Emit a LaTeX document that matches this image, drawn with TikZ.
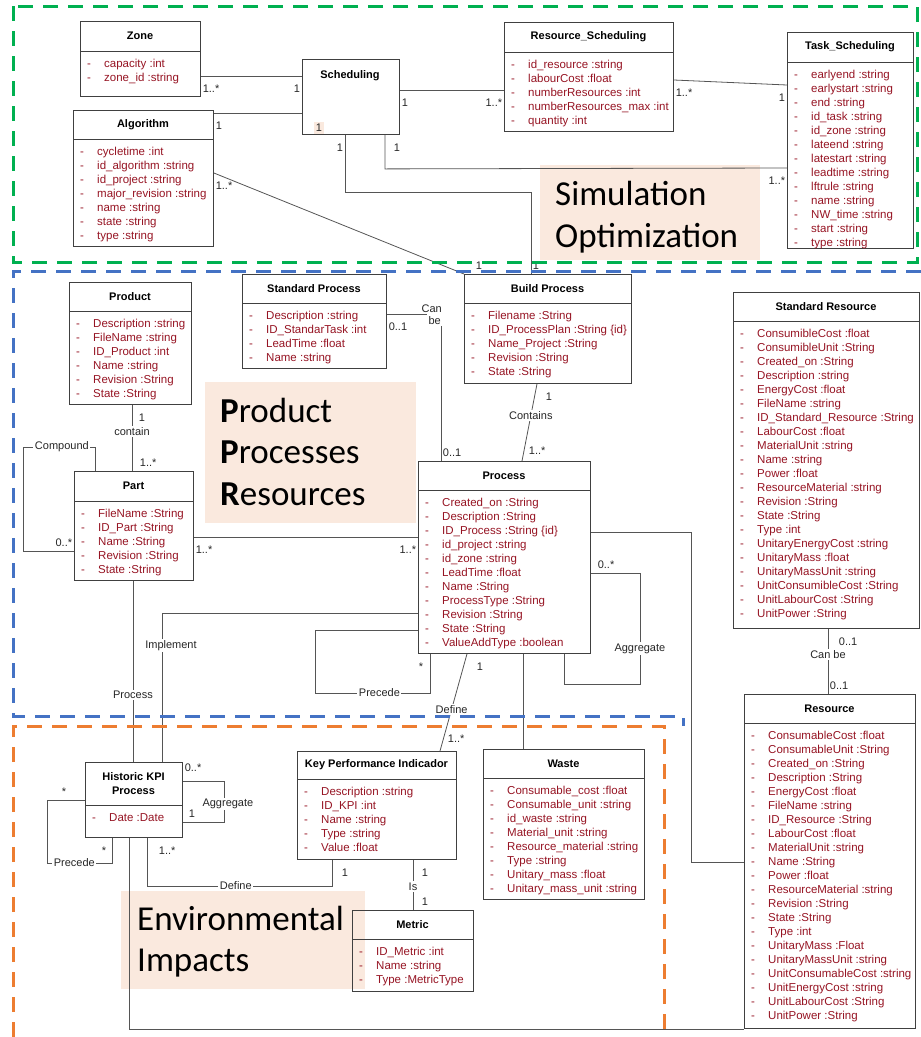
\documentclass[tikz,border=0pt]{standalone}
\usepackage{tikz,ifthen}
\usepackage{fontspec}
\setmainfont{Liberation Sans}
\newfontfamily\notefont{Carlito}
\usetikzlibrary{calc}

\definecolor{boxgray}{RGB}{64,64,64}
\definecolor{linegray}{RGB}{85,85,85}
\definecolor{attrred}{RGB}{150,20,35}
\definecolor{notebeige}{RGB}{250,233,222}
\definecolor{greenframe}{RGB}{0,176,80}
\definecolor{blueframe}{RGB}{68,114,196}
\definecolor{orangeframe}{RGB}{237,125,49}

\tikzset{
  classbox/.style={draw=boxgray, line width=0.9pt, inner sep=0pt},
  classtitle/.style={font=\bfseries\fontsize{11}{14}\selectfont, align=center, inner sep=0pt},
  attr/.style={font=\fontsize{11.5}{14}\selectfont, text=attrred, inner sep=0pt, anchor=base west},
  conn/.style={draw=linegray, line width=0.8pt},
  mult/.style={font=\fontsize{11}{13}\selectfont, text=black!85, inner sep=1.5pt},
  mbr/.style={mult, anchor=north west, yshift=-7pt},
  mbl/.style={mult, anchor=north east, yshift=-7pt},
  mar/.style={mult, anchor=south west, yshift=3pt},
  mal/.style={mult, anchor=south east, yshift=3pt},
  lab/.style={font=\fontsize{11}{13}\selectfont, text=black!85, fill=white, inner sep=1.5pt},
  note/.style={fill=notebeige, inner sep=0pt, anchor=north west},
  bigtext/.style={font=\notefont\fontsize{35}{43}\selectfont, anchor=base west, inner sep=0pt},
  frame/.style={line width=3pt, dash pattern=on 15pt off 10pt}
}

% name, left, top, right, divider, bottom, title, attributes
\newcommand{\umlclass}[8]{%
  \node[classbox, anchor=north west, minimum width={(#4-#2)*1pt},
        minimum height={(#6-#3)*1pt}] (#1) at (#2,#3) {};
  \draw[classbox] (#2,#5) -- (#4,#5);
  \node[classtitle] (#1-t) at ({(#2+#4)/2},{(#3+#5)/2}) {#7};
  \foreach \a [count=\i from 0] in {#8}
    \node[attr] (#1-\i) at (#2+7,#5+16+14*\i) {\makebox[17pt][l]{-}\a};
}

\begin{document}
\begin{tikzpicture}[x=1pt,y=-1pt]
\useasboundingbox (0,0) rectangle (921,1037);

% notes
\node[note, minimum width=220pt, minimum height=95pt] (simopt) at (540,165) {};
\node[bigtext] (simopt-1) at ($(simopt.north west)+(15,40)$) {Simulation};
\node[bigtext] (simopt-2) at ($(simopt.north west)+(15,82)$) {Optimization};
\node[note, minimum width=211pt, minimum height=141pt] (ppr) at (205,382) {};
\node[bigtext] (ppr-1) at ($(ppr.north west)+(15,40)$) {\textbf{P}roduct};
\node[bigtext] (ppr-2) at ($(ppr.north west)+(15,81)$) {\textbf{P}rocesses};
\node[bigtext] (ppr-3) at ($(ppr.north west)+(15,123)$) {\textbf{R}esources};
\node[note, minimum width=244pt, minimum height=98pt] (env) at (121,891) {};
\node[bigtext] (env-1) at ($(env.north west)+(16,39)$) {Environmental};
\node[bigtext] (env-2) at ($(env.north west)+(16,80)$) {Impacts};

% classes
\umlclass{zone}{80}{21}{200}{51}{96}{Zone}{capacity :int, zone\_id :string}
\umlclass{algo}{73}{110}{213}{139}{246}{Algorithm}{cycletime :int, id\_algorithm :string,
  id\_project :string, major\_revision :string, name :string, state :string, type :string}
\node[classbox, anchor=north west, minimum width=97pt, minimum height=75pt] (sched) at (302,59) {};
\node[classtitle] (sched-t) at (350,76) {Scheduling};
\umlclass{ressched}{504}{22}{673}{52}{131}{Resource\_Scheduling}{id\_resource :string,
  labourCost :float, numberResources :int, numberResources\_max :int, quantity :int}
\umlclass{tasksched}{787}{32}{913}{62}{248}{Task\_Scheduling}{earlyend :string,
  earlystart :string, end :string, id\_task :string, id\_zone :string, lateend :string,
  latestart :string, leadtime :string, lftrule :string, name :string, NW\_time :string,
  start :string, type :string}
\umlclass{stdproc}{242}{274}{386}{303}{368}{Standard Process}{Description :string,
  ID\_StandarTask :int, LeadTime :float, Name :string}
\umlclass{buildproc}{464}{274}{631}{303}{383}{Build Process}{Filename :String,
  ID\_ProcessPlan :String \{id\}, Name\_Project :String, Revision :String, State :String}
\umlclass{product}{69}{282}{191}{311}{404}{Product}{Description :string, FileName :string,
  ID\_Product :int, Name :string, Revision :String, State :String}
\umlclass{part}{74}{471}{193}{501}{580}{Part}{FileName :String, ID\_Part :String,
  Name :String, Revision :String, State :String}
\umlclass{process}{418}{461}{590}{490}{653}{Process}{Created\_on :String,
  Description :String, ID\_Process :String \{id\}, id\_project :string, id\_zone :string,
  LeadTime :float, Name :String, ProcessType :String, Revision :String, State :String,
  ValueAddType :boolean}
\umlclass{stdres}{733}{292}{919}{321}{628}{Standard Resource}{ConsumibleCost :float,
  ConsumibleUnit :String, Created\_on :String, Description :string, EnergyCost :float,
  FileName :string, ID\_Standard\_Resource :String, LabourCost :float, MaterialUnit :string,
  Name :string, Power :float, ResourceMaterial :string, Revision :String, State :String,
  Type :int, UnitaryEnergyCost :string, UnitaryMass :float, UnitaryMassUnit :string,
  UnitConsumibleCost :String, UnitLabourCost :String, UnitPower :String}
\umlclass{resource}{744}{694}{915}{723}{1028}{Resource}{ConsumableCost :float,
  ConsumableUnit :String, Created\_on :String, Description :String, EnergyCost :float,
  FileName :string, ID\_Resource :String, LabourCost :float, MaterialUnit :string,
  Name :String, Power :float, ResourceMaterial :string, Revision :String, State :String,
  Type :int, UnitaryMass :Float, UnitaryMassUnit :string, UnitConsumableCost :string,
  UnitEnergyCost :string, UnitLabourCost :String, UnitPower :String}
\umlclass{histkpi}{85}{762}{182}{805}{837}{Historic KPI\\Process}{Date :Date}
\umlclass{kpi}{297}{751}{456}{779}{859}{Key Performance Indicador}{Description :string,
  ID\_KPI :int, Name :string, Type :string, Value :float}
\umlclass{waste}{483}{749}{644}{778}{899}{Waste}{Consumable\_cost :float,
  Consumable\_unit :string, id\_waste :string, Material\_unit :string,
  Resource\_material :string, Type :string, Unitary\_mass :float, Unitary\_mass\_unit :string}
\umlclass{metric}{352}{910}{473}{939}{991}{Metric}{ID\_Metric :int, Name :string,
  Type :MetricType}

% simulation part
\coordinate (zs) at ($(zone.north east)+(0,55)$);
\draw[conn] (zs) -- node[mbr,pos=0]{1..*} node[mbl,pos=1]{1} (zs -| sched.west);
\coordinate (as) at ($(algo.north east)+(0,3)$);
\draw[conn] (as) -- node[mbr,pos=0]{1} (as -| sched.west);
\node[mult, fill=notebeige, inner sep=2pt] (sched-m) at ($(sched.south west)+(17,-7)$) {1};
\coordinate (sr) at ($(sched.north east)+(0,31)$);
\draw[conn] (sr) -- node[mbr,pos=0]{1} node[mbl,pos=1]{1..*} (sr -| ressched.west);
\draw[conn] ($(ressched.north east)+(0,58)$) -- node[mbr,pos=0]{1..*}
  node[mbl,pos=1]{1} ($(tasksched.north west)+(0,53)$);
\draw[conn] ($(sched.south west)+(83,0)$) -- node[mbr,pos=0,xshift=7pt]{1} ++(0,34)
  -- node[mbl,pos=1]{1..*} ($(tasksched.north west)+(0,136)$);
\draw[conn] ($(sched.south west)+(43,0)$) -- node[mbl,pos=0]{1} ++(0,57)
  -| node[mar,pos=1]{1} ($(buildproc.north west)+(67,0)$);
\draw[conn] ($(algo.north east)+(0,63)$) -- node[mbr,pos=0]{1..*}
  node[mar,pos=1,xshift=10pt]{1} (buildproc.north west);

% product, processes, resources
\draw[conn] ($(stdproc.north east)+(0,40)$) -| node[mbr,pos=0]{0..1}
  node[mar,pos=1]{0..1} ($(process.north west)+(23,0)$);
\node[mult, anchor=south east, inner sep=1pt] (can) at ($(process.north west)+(25,-147)$) {Can};
\node[lab, anchor=north east, inner sep=2pt] (be) at ($(process.north west)+(25,-147)$) {be};
\draw[conn] ($(buildproc.south west)+(73,0)$) -- node[lab,pos=0.41]{Contains}
  node[mbr,pos=0,xshift=7pt]{1} node[mar,pos=1,xshift=5pt,yshift=2pt]{1..*}
  ($(process.north west)+(104,0)$);
\coordinate (pp) at ($(product.south west)+(63,0)$);
\draw[conn] (pp) -- node[lab,pos=0.4]{contain} node[mbr,pos=0,xshift=5pt]{1}
  node[mar,pos=1,xshift=6pt]{1..*} (pp |- part.north);
\draw[conn] ($(part.north west)+(21,0)$) -- ++(0,-24) -- node[lab,pos=0.46]{Compound}
  ++(-72,0) |- node[mal,pos=1]{0..*} ($(part.north west)+(0,80)$);
\coordinate (pt) at ($(part.north east)+(0,66)$);
\draw[conn] (pt) -- node[mbr,pos=0]{1..*} node[mbl,pos=1]{1..*} (pt -| process.west);
\draw[conn] ($(process.north east)+(0,71)$) -- ++(100,0) |- ($(resource.north west)+(0,168)$);
\draw[conn] ($(process.north east)+(0,112)$) -- node[mar,pos=0,xshift=5pt]{0..*} ++(49,0)
  -- node[lab,pos=0.68]{Aggregate} ++(0,111) -| ($(process.south west)+(146,0)$);
\draw[conn] ($(process.north west)+(0,169)$) -- ++(-103,0) -- ++(0,63)
  -| node[lab,pos=0.28]{Precede} node[mbl,pos=1,xshift=-5pt]{*} ($(process.south west)+(12,0)$);
\draw[conn] ($(process.north west)+(0,152)$) -| node[lab,pos=0.61,xshift=9pt]{Implement}
  ($(histkpi.north west)+(77,0)$);
\coordinate (ph) at ($(part.south west)+(59,0)$);
\draw[conn] (ph) -- node[lab,pos=0.63]{Process} (ph |- histkpi.north);
\coordinate (sres) at ($(stdres.south west)+(95,0)$);
\draw[conn] (sres) -- node[lab,pos=0.4]{Can be} node[mbr,pos=0,xshift=9pt]{0..1}
  node[mar,pos=1]{0..1} (sres |- resource.north);

% environmental impacts
\draw[conn] ($(process.south west)+(49,0)$) -- node[lab,pos=0.57]{Define}
  node[mbr,pos=0,xshift=8pt]{1} node[mar,pos=1,xshift=6pt,yshift=4pt]{1..*}
  ($(kpi.north west)+(143,0)$);
\coordinate (pw) at ($(process.south west)+(105,0)$);
\draw[conn] (pw) -- (pw |- waste.north);
\draw[conn] ($(histkpi.north east)+(0,19)$) -- node[mar,pos=0,yshift=5pt]{0..*} ++(41,0)
  |- node[lab,pos=0.28,xshift=4pt]{Aggregate} node[mar,pos=1,xshift=4pt]{1}
  ($(histkpi.north east)+(0,60)$);
\draw[conn] ($(histkpi.north west)+(0,38)$) -- node[mal,pos=0,xshift=-17pt]{*} ++(-38,0)
  -- ++(0,63) -| node[lab,pos=0.21]{Precede} node[mbl,pos=1,xshift=-4pt]{*}
  ($(histkpi.south west)+(27,0)$);
\draw[conn] ($(histkpi.south west)+(62,0)$) -- node[mbr,pos=0,xshift=10pt]{1..*} ++(0,48)
  -| node[lab,pos=0.24]{Define} node[mbr,pos=1,xshift=8pt]{1} ($(kpi.south west)+(35,0)$);
\draw[conn] ($(histkpi.south west)+(44,0)$) |- (resource.south west);
\coordinate (km) at ($(kpi.south west)+(116,0)$);
\draw[conn] (km) -- node[lab,pos=0.53]{Is} node[mbr,pos=0,xshift=7pt]{1}
  node[mar,pos=1,xshift=7pt]{1} (km |- metric.north);

% frames
\draw[frame, draw=greenframe] (13,6) rectangle (917,262);
\draw[frame, draw=blueframe] (921,271) -- (13,271) -- (13,716) -- (683,716) -- (683,726);
\draw[frame, draw=orangeframe] (13,1037) -- (13,726) -- (664,726) -- (664,1037);
\end{tikzpicture}
\end{document}
